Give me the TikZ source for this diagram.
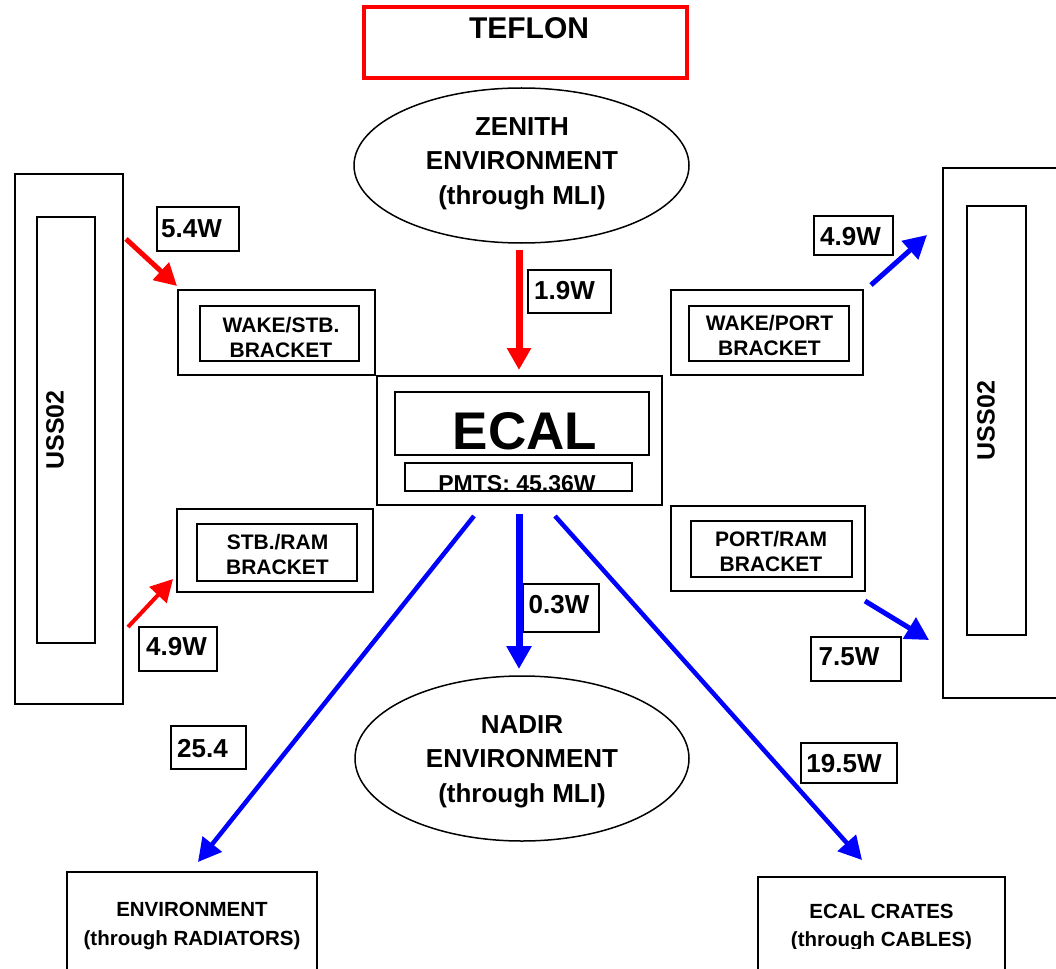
\documentclass[tikz,border=0pt]{standalone}
\usepackage{fontspec}
\setmainfont{Liberation Sans}
\usetikzlibrary{arrows.meta,shapes.geometric}
\newcommand\myfs[2]{\fontsize{#1}{#2}\selectfont\bfseries}
\begin{document}
\begin{tikzpicture}[x=1pt,y=-1pt,
  box/.style={draw, line width=2pt, inner sep=0pt, rectangle},
  ell/.style={draw, ellipse, line width=1.5pt, inner sep=0pt},
  txt/.style={inner sep=0pt, align=center},
  lbl/.style={inner sep=0pt, anchor=base, font=\myfs{26}{26}},
  brk/.style={txt, font=\myfs{21}{25.5}},
  redarr/.style={draw=red, -{Triangle[length=22pt,width=23pt]}},
  bluearr/.style={draw=blue, -{Triangle[length=23pt,width=24pt]}},
]
\useasboundingbox (0,0) rectangle (1056,968);
\clip (0,0) rectangle (1056,968);

% TEFLON
\node[box, draw=red, line width=3.5pt, minimum width=323, minimum height=71] (teflon) at (525.5,42.5) {};
\node[lbl, font=\myfs{30}{30}] (tefltxt) at (529,39) {TEFLON};

% Zenith / Nadir
\node[ell, minimum width=335, minimum height=155] (zenith) at (521.5,165.5) {};
\node[txt, font=\myfs{26}{34.5}] (zenithtxt) at (522,163.5) {ZENITH\\ENVIRONMENT\\(through MLI)};
\node[ell, minimum width=334, minimum height=165] (nadir) at (522,758.5) {};
\node[txt, font=\myfs{26}{34.5}] (nadirtxt) at (522,761.5) {NADIR\\ENVIRONMENT\\(through MLI)};

% ECAL
\node[box, minimum width=285, minimum height=129] (ecal) at (519.5,440.5) {};
\node[box, minimum width=254, minimum height=63] (ecalin) at (522,423.5) {};
\node[lbl, font=\myfs{53}{53}] (ecaltxt) at (525,449) {ECAL};
\begin{scope}
  \clip (405,463) rectangle (632,490);
  \node[lbl, font=\myfs{23}{23}] (pmtstxt) at (517,491.5) {PMTS: 45.36W};
\end{scope}
\node[box, minimum width=227, minimum height=28] (pmts) at (518.5,477) {};

% USS02
\node[box, minimum width=108, minimum height=530] (ussL) at (69,439) {};
\node[box, minimum width=57.5, minimum height=426] (ussLin) at (65.75,430) {};
\node[inner sep=0pt, rotate=90, font=\myfs{25}{25}] (ussLtxt) at (55,430) {USS02};
\node[box, minimum width=137, minimum height=530] (ussR) at (1011.5,433) {};
\node[box, minimum width=59, minimum height=429] (ussRin) at (996.5,420.5) {};
\node[inner sep=0pt, rotate=90, font=\myfs{25}{25}] (ussRtxt) at (986,420.5) {USS02};

% Brackets
\node[box, minimum width=197, minimum height=85] (wsb) at (276.5,332.5) {};
\node[box, minimum width=159, minimum height=55] (wsbin) at (279.5,333.5) {};
\node[brk] (wsbtxt) at (281,337.4) {WAKE/STB.\\BRACKET};
\node[box, minimum width=196, minimum height=83] (srb) at (275,550.5) {};
\node[box, minimum width=160, minimum height=57] (srbin) at (277,552.5) {};
\node[brk] (srbtxt) at (277.5,554.4) {STB./RAM\\BRACKET};
\node[box, minimum width=192, minimum height=85] (wpb) at (767,332.5) {};
\node[box, minimum width=160, minimum height=55] (wpbin) at (769,333.5) {};
\node[brk] (wpbtxt) at (769.5,335.4) {WAKE/PORT\\BRACKET};
\node[box, minimum width=194, minimum height=85] (prb) at (768,548.5) {};
\node[box, minimum width=161, minimum height=56] (prbin) at (771.5,549) {};
\node[brk] (prbtxt) at (771,551.4) {PORT/RAM\\BRACKET};

% Bottom boxes
\node[box, minimum width=250, minimum height=108, font=\myfs{20.5}{28.5}, align=center] (envrad) at (192,926) {ENVIRONMENT\\(through RADIATORS)};
\node[box, minimum width=247, minimum height=102] (crates) at (881.5,928) {};
\begin{scope}
  \clip (700,850) rectangle (1056,948);
  \node[txt, font=\myfs{20.5}{28.5}] (cratestxt) at (881.5,927.75) {ECAL CRATES\\(through CABLES)};
\end{scope}

% Value labels
\node[box, minimum width=82, minimum height=44] (b54) at (198,229) {};
\node[lbl] (t54) at (191.5,237) {5.4W};
\node[box, minimum width=83, minimum height=43] (b19) at (569.5,291.5) {};
\node[lbl] (t19) at (564.5,299) {1.9W};
\node[box, minimum width=79, minimum height=39] (b49r) at (853.5,235.5) {};
\node[lbl] (t49r) at (850.5,245) {4.9W};
\node[box, minimum width=78, minimum height=44] (b49l) at (178,649) {};
\node[lbl] (t49l) at (176.5,655) {4.9W};
\node[box, minimum width=76, minimum height=48] (b03) at (561,608) {};
\node[lbl] (t03) at (559,613) {0.3W};
\node[box, minimum width=90, minimum height=44] (b75) at (856,659) {};
\node[lbl] (t75) at (849,665) {7.5W};
\node[box, minimum width=75, minimum height=43] (b254) at (208.5,747.5) {};
\node[lbl] (t254) at (202.5,757) {25.4};
\node[box, minimum width=96, minimum height=40] (b195) at (849,763) {};
\node[lbl] (t195) at (844,772) {19.5W};

% Arrow end points
\coordinate (zs) at (519,250);   \coordinate (ze) at (519,370);
\coordinate (a54s) at (126,239); \coordinate (a54e) at (177,286);
\coordinate (a49ls) at (128,627); \coordinate (a49le) at (173,579);
\coordinate (a49rs) at (871,285); \coordinate (a49re) at (927,235);
\coordinate (a75s) at (865,601); \coordinate (a75e) at (929,640);
\coordinate (ens) at (474,516);  \coordinate (ene) at (198,862);
\coordinate (nas) at (519,514);  \coordinate (nae) at (519,669);
\coordinate (crs) at (555,516);  \coordinate (cre) at (862,860);

% Arrows
\draw[redarr, line width=7pt] (zs) -- (ze);
\draw[redarr, line width=5pt] (a54s) -- (a54e);
\draw[redarr, line width=4pt] (a49ls) -- (a49le);
\draw[bluearr, line width=5pt] (a49rs) -- (a49re);
\draw[bluearr, line width=5pt] (a75s) -- (a75e);
\draw[bluearr, line width=4.5pt] (ens) -- (ene);
\draw[bluearr, line width=7pt] (nas) -- (nae);
\draw[bluearr, line width=4.5pt] (crs) -- (cre);
\end{tikzpicture}
\end{document}
